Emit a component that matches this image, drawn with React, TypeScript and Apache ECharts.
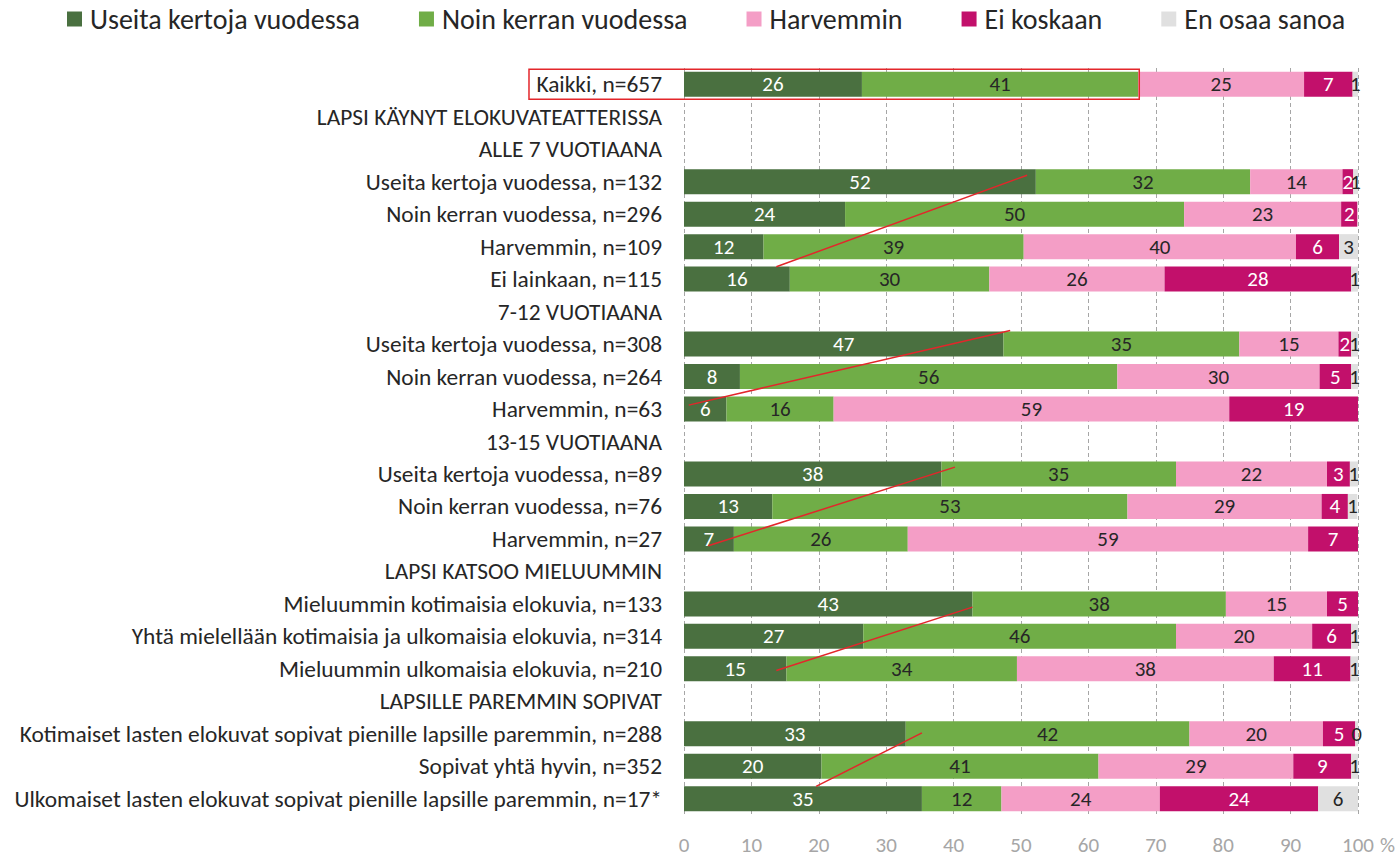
import React, { useEffect, useRef } from 'react';
import * as echarts from 'echarts';

const categories = [
  'Kaikki, n=657',
  'LAPSI KÄYNYT ELOKUVATEATTERISSA',
  'ALLE 7 VUOTIAANA',
  'Useita kertoja vuodessa, n=132',
  'Noin kerran vuodessa, n=296',
  'Harvemmin, n=109',
  'Ei lainkaan, n=115',
  '7-12 VUOTIAANA',
  'Useita kertoja vuodessa, n=308',
  'Noin kerran vuodessa, n=264',
  'Harvemmin, n=63',
  '13-15 VUOTIAANA',
  'Useita kertoja vuodessa, n=89',
  'Noin kerran vuodessa, n=76',
  'Harvemmin, n=27',
  'LAPSI KATSOO MIELUUMMIN',
  'Mieluummin kotimaisia elokuvia, n=133',
  'Yhtä mielellään kotimaisia ja ulkomaisia elokuvia, n=314',
  'Mieluummin ulkomaisia elokuvia, n=210',
  'LAPSILLE PAREMMIN SOPIVAT',
  'Kotimaiset lasten elokuvat sopivat pienille lapsille paremmin, n=288',
  'Sopivat yhtä hyvin, n=352',
  'Ulkomaiset lasten elokuvat sopivat pienille lapsille paremmin, n=17*',
];

const seriesNames = ['Useita kertoja vuodessa', 'Noin kerran vuodessa', 'Harvemmin', 'Ei koskaan', 'En osaa sanoa'];

const useita = [26.4, null, null, 52.2, 23.9, 11.8, 15.7, null, 47.4, 8.3, 6.3, null, 38.2, 13.1, 7.4, null, 42.8, 26.6, 15.2, null, 32.9, 20.4, 35.3];
const noinKerran = [41.0, null, null, 31.8, 50.3, 38.6, 29.6, null, 35.0, 56.0, 15.9, null, 34.8, 52.7, 25.8, null, 37.6, 46.4, 34.2, null, 42.1, 41.1, 11.8];
const harvemmin = [24.6, null, null, 13.7, 23.3, 40.4, 26.0, null, 14.7, 30.0, 58.7, null, 22.4, 28.8, 59.4, null, 15.0, 20.2, 38.1, null, 19.8, 28.9, 23.5];
const eiKoskaan = [7.2, null, null, 1.6, 2.4, 6.4, 27.7, null, 1.9, 4.7, 19.1, null, 3.4, 3.9, 7.4, null, 4.6, 5.8, 11.4, null, 4.8, 8.6, 23.5];
const enOsaa = [0.8, null, null, 0.7, null, 2.8, 1.0, null, 1.0, 1.0, null, null, 1.2, 1.4, null, null, null, 1.0, 1.1, null, 0.4, 1.0, 5.9];

const seriesData = [useita, noinKerran, harvemmin, eiKoskaan, enOsaa];
const colors = ['#4a7040', '#70ad47', '#f49ec6', '#c2106b', '#e0e0e0'];
const labelColors = ['#ffffff', '#262626', '#262626', '#ffffff', '#262626'];

const xTicks = [0, 10, 20, 30, 40, 50, 60, 70, 80, 90, 100];

// red annotation lines: [xFrom, rowFrom, xTo, rowTo] (row = fractional category index)
const trendLines = [
  [13.7, 5.62, 50.9, 2.8],
  [0.7, 9.88, 48.4, 7.58],
  [3.6, 14.21, 40.2, 11.79],
  [13.7, 18.05, 42.8, 16.1],
  [19.6, 21.62, 35.3, 19.97],
];
const highlightEnd = 67.4;

const FONT = 'Carlito, Calibri, Lato, "Open Sans", sans-serif';

export default function App() {
  const ref = useRef<HTMLDivElement>(null);
  useEffect(() => {
    if (!ref.current) return;
    const chart = echarts.init(ref.current, null, { renderer: 'svg' });
    const option: any = {
      animation: false,
      textStyle: { fontFamily: FONT },
      legend: {
        top: 0,
        left: 62,
        itemWidth: 15,
        itemHeight: 15,
        itemGap: 59,
        icon: 'rect',
        textStyle: { fontSize: 28, color: '#262626', fontFamily: FONT, padding: [0, 0, 0, 3] },
        data: seriesNames,
      },
      grid: { left: 684, right: 40, top: 68, bottom: 41, containLabel: false },
      xAxis: {
        type: 'value',
        min: 0,
        max: 100,
        interval: 10,
        axisLine: { show: false },
        axisTick: { show: false },
        splitLine: { show: true, lineStyle: { color: '#a6a6a6', type: [4, 3], width: 1 } },
        axisLabel: { color: '#a6a6a6', fontSize: 21, margin: 19, fontFamily: FONT, formatter: (v: number) => (xTicks.includes(v) ? String(v) : '') },
        name: '%',
        nameLocation: 'end',
        nameGap: 22,
        nameTextStyle: { color: '#a6a6a6', fontSize: 21, verticalAlign: 'top', padding: [19, 0, 0, 0], fontFamily: FONT },
      },
      yAxis: {
        type: 'category',
        inverse: true,
        data: categories,
        axisLine: { show: false },
        axisTick: { show: false },
        axisLabel: { color: '#262626', fontSize: 23.4, margin: 22, fontFamily: FONT },
      },
      series: seriesNames.map((name, i) => ({
        name,
        type: 'bar',
        stack: 'total',
        barCategoryGap: '23%',
        itemStyle: { color: colors[i] },
        label: {
          show: true,
          position: 'inside',
          color: labelColors[i],
          fontSize: 21,
          fontFamily: FONT,
          formatter: (p: any) => (p.value == null ? '' : String(Math.round(p.value))),
        },
        data: seriesData[i],
      })),
    };
    chart.setOption(option);

    const p0 = chart.convertToPixel({ gridIndex: 0 }, [0, categories[0]]) as number[];
    const p1 = chart.convertToPixel({ gridIndex: 0 }, [0, categories[1]]) as number[];
    const step = p1[1] - p0[1];
    const px = (v: number) => (chart.convertToPixel({ gridIndex: 0 }, [v, categories[0]]) as number[])[0];
    const py = (r: number) => p0[1] + r * step;
    const graphics: any[] = trendLines.map((t) => ({
      type: 'line',
      shape: { x1: px(t[0]), y1: py(t[1]), x2: px(t[2]), y2: py(t[3]) },
      style: { stroke: '#e3262b', lineWidth: 1.5 },
      z: 100,
    }));
    const right = px(highlightEnd) + 1;
    const left = p0[0] - 155;
    graphics.push({
      type: 'rect',
      shape: { x: left, y: p0[1] - 15, width: right - left, height: 30 },
      style: { fill: 'none', stroke: '#e3262b', lineWidth: 1.5 },
      z: 100,
    });
    chart.setOption({ graphic: graphics });
    return () => chart.dispose();
  }, []);
  return <div ref={ref} style={{ position: 'absolute', left: 0, top: 0, width: 1398, height: 856 }} />;
}
